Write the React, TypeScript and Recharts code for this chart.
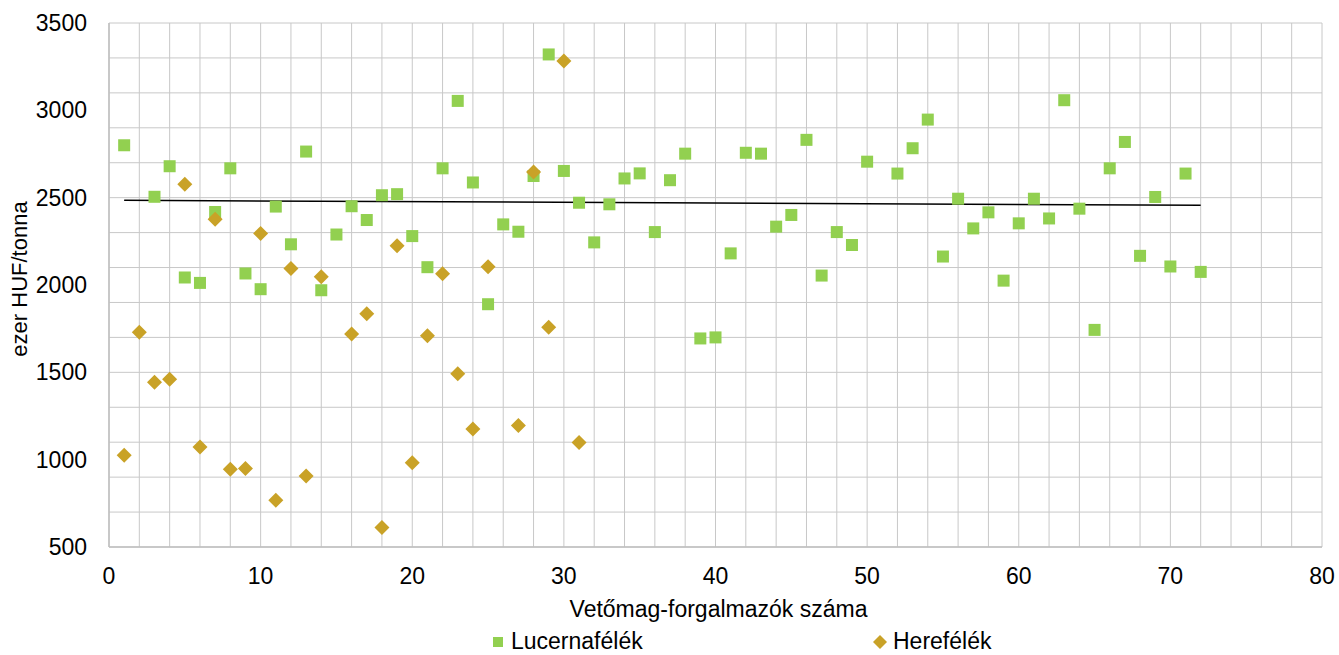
import React from 'react';
import { ScatterChart, Scatter, XAxis, YAxis, CartesianGrid, Legend } from 'recharts';

// Lucernafélék, by distributor number 1..72 (null = no value)
const lucernaValues: (number | null)[] = [
  2800, null, 2505, 2680, 2043, 2012, 2418, 2668, 2066, 1976,
  2449, 2233, 2764, 1970, 2289, 2451, 2372, 2514, 2520, 2280,
  2102, 2668, 3054, 2587, 1890, 2347, 2305, 2624, 3320, 2653,
  2471, 2244, 2462, 2610, 2639, 2303, 2600, 2752, 1694, 1700,
  2181, 2757, 2752, 2334, 2401, 2831, 2054, 2303, 2229, 2706,
  null, 2638, 2783, 2947, 2163, 2494, 2324, 2416, 2025, 2353,
  2494, 2381, 3058, 2437, 1743, 2668, 2819, 2167, 2504, 2106,
  2638, 2075,
];

// Herefélék, by distributor number 1..31
const hereValues: (number | null)[] = [
  1026, 1729, 1443, 1460, 2577, 1072, 2376, 945, 949, 2295,
  768, 2095, 907, 2047, null, 1720, 1835, 611, 2225, 982,
  1710, 2064, 1492, 1175, 2104, null, 1196, 2647, 1758, 3282,
  1098,
];

// linear trend line ends
const trendX = [1, 72];
const trendY = [2485, 2456];

const xTicks = [0, 10, 20, 30, 40, 50, 60, 70, 80];
const yTicks = [500, 1000, 1500, 2000, 2500, 3000, 3500];

const toPoints = (vals: (number | null)[]) =>
  vals
    .map((v, i) => ({ x: i + 1, y: v }))
    .filter((p) => p.y !== null);

const lucernaData = toPoints(lucernaValues);
const hereData = toPoints(hereValues);
const trendData = trendX.map((x, i) => ({ x, y: trendY[i] }));

const gridX = Array.from({ length: 41 }, (_, i) => i * 2);
const gridY = Array.from({ length: 31 }, (_, i) => 500 + i * 100);

const FONT = '"Liberation Sans", Arial, sans-serif';
const GREEN = '#92D050';
const GOLD = '#C9A227';

const Square = (props: any) => {
  const { cx, cy } = props;
  return <rect x={cx - 6} y={cy - 6} width={12} height={12} fill={GREEN} />;
};

const Diamond = (props: any) => {
  const { cx, cy } = props;
  const r = 7.5;
  return <polygon points={`${cx},${cy - r} ${cx + r},${cy} ${cx},${cy + r} ${cx - r},${cy}`} fill={GOLD} />;
};

const renderLegend = () => (
  <div style={{ position: 'relative', height: 26, width: 1339, fontFamily: FONT, fontSize: 23, color: '#000' }}>
    <span style={{ position: 'absolute', left: 493, top: 8, width: 10, height: 10, background: GREEN }} />
    <span style={{ position: 'absolute', left: 511, top: 2, lineHeight: '20px' }}>Lucernafélék</span>
    <svg style={{ position: 'absolute', left: 872, top: 5 }} width={16} height={16}>
      <polygon points="8,1 15,8 8,15 1,8" fill={GOLD} />
    </svg>
    <span style={{ position: 'absolute', left: 893, top: 2, lineHeight: '20px' }}>Herefélék</span>
  </div>
);

export default function App() {
  return (
    <div style={{ position: 'fixed', left: 0, top: 0, width: 1339, height: 655, overflow: 'hidden', background: '#fff' }}>
      <ScatterChart width={1339} height={655} margin={{ top: 23, right: 17, bottom: 0, left: 0 }}>
        <CartesianGrid
          stroke="#C8C8C8"
          strokeWidth={1}
          verticalValues={gridX}
          horizontalValues={gridY}
        />
        <XAxis
          type="number"
          dataKey="x"
          domain={[0, 80]}
          ticks={xTicks}
          allowDataOverflow
          height={82}
          tickLine={false}
          tickSize={0}
          tickMargin={21}
          axisLine={{ stroke: '#BFBFBF', strokeWidth: 1.5 }}
          tick={{ fill: '#000', fontSize: 23, fontFamily: FONT }}
          label={{
            content: (p: any) => {
              const vb = p.viewBox || { x: 109, width: 1213 };
              return (
                <text x={vb.x + vb.width / 2 + 3} y={617} textAnchor="middle" fontSize={23} fontFamily={FONT} fill="#000">
                  Vetőmag-forgalmazók száma
                </text>
              );
            },
          }}
        />
        <YAxis
          type="number"
          dataKey="y"
          domain={[500, 3500]}
          ticks={yTicks}
          allowDataOverflow
          width={109}
          tickLine={false}
          tickSize={0}
          tickMargin={22}
          axisLine={{ stroke: '#BFBFBF', strokeWidth: 1.5 }}
          tick={{ fill: '#000', fontSize: 23, fontFamily: FONT }}
          label={{
            content: () => (
              <text
                x={19}
                y={279}
                transform="rotate(-90, 19, 279)"
                textAnchor="middle"
                dominantBaseline="central"
                fontSize={22}
                fontFamily={FONT}
                fill="#000"
              >
                ezer HUF/tonna
              </text>
            ),
          }}
        />
        <Legend
          verticalAlign="bottom"
          height={26}
          content={renderLegend}
          wrapperStyle={{ left: 0, bottom: 0, width: 1339 }}
        />
        <Scatter
          name="trend"
          data={trendData}
          line={{ stroke: '#000', strokeWidth: 1.5 }}
          shape={() => <g />}
          legendType="none"
          isAnimationActive={false}
        />
        <Scatter name="Lucernafélék" data={lucernaData} shape={Square} isAnimationActive={false} />
        <Scatter name="Herefélék" data={hereData} shape={Diamond} isAnimationActive={false} />
      </ScatterChart>
    </div>
  );
}
